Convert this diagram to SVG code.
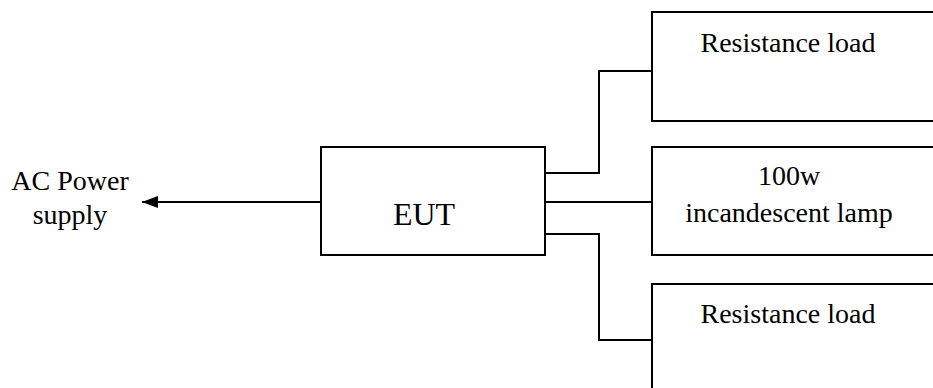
<svg xmlns="http://www.w3.org/2000/svg" width="933" height="388" viewBox="0 0 933 388">
<style>
.box{fill:#fff;stroke:#000;stroke-width:2}
.ln{fill:none;stroke:#000;stroke-width:2}
.t{font-family:'Liberation Serif','Times New Roman','DejaVu Serif',serif;font-size:28px;fill:#000;text-anchor:middle}
.big{font-size:32px}
</style>
<defs>
<marker id="ah" markerWidth="16" markerHeight="12" refX="16" refY="6" orient="auto" markerUnits="userSpaceOnUse">
<path d="M0,0 L16,6 L0,12 Z" fill="#000"/>
</marker>
</defs>
<g id="connectors">
<line class="ln" x1="321" y1="202" x2="142" y2="202" marker-end="url(#ah)"/>
<polyline class="ln" points="545,173 599,173 599,71 652,71"/>
<line class="ln" x1="545" y1="202" x2="652" y2="202"/>
<polyline class="ln" points="545,234 599,234 599,340 652,340"/>
</g>
<g id="ac-power">
<text class="t" x="70" y="190">AC Power</text>
<text class="t" x="70" y="224">supply</text>
</g>
<g id="eut">
<rect class="box" x="321" y="147" width="224" height="108"/>
<text class="t big" x="424" y="225">EUT</text>
</g>
<g id="load1">
<rect class="box" x="652" y="12" width="300" height="109"/>
<text class="t" x="788" y="52">Resistance load</text>
</g>
<g id="lamp">
<rect class="box" x="652" y="147" width="300" height="108"/>
<text class="t" x="789" y="185">100w</text>
<text class="t" x="789" y="222">incandescent lamp</text>
</g>
<g id="load2">
<rect class="box" x="652" y="284" width="300" height="120"/>
<text class="t" x="788" y="323">Resistance load</text>
</g>
</svg>
